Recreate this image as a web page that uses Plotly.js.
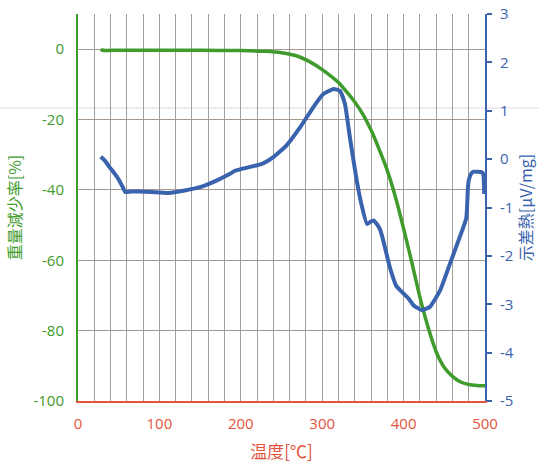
<!DOCTYPE html>
<html>
<head>
<meta charset="utf-8">
<script src="https://cdn.plot.ly/plotly-3.0.1.min.js"></script>
<style>html,body{margin:0;padding:0;background:#fff;}#chart{width:539px;height:466px;}</style>
</head>
<body>
<div id="chart"></div>
<script>
// Weight loss (TG) curve, left axis [%]
const tgTemp = [28, 30, 50, 100, 150, 200, 230, 250, 270, 285, 300, 320, 340, 350, 360, 370, 380, 390, 400, 410, 420, 430, 440, 450, 460, 470, 480, 490, 500];
const tgValue = [0, -0.3, -0.3, -0.3, -0.3, -0.4, -0.6, -1.0, -2.0, -3.6, -5.8, -9.5, -15, -18.5, -23, -28.5, -34.5, -42, -51, -60.5, -70.5, -79, -86, -90.5, -93, -94.6, -95.3, -95.6, -95.7];

// Differential heat (DTA) curve, right axis [μV/mg]
const dtaTemp = [28, 33, 39, 45, 50, 55, 58, 65, 75, 90, 111, 131, 152, 172, 185, 193, 209, 226, 240, 256, 273, 289, 301, 314, 322, 328, 334, 342, 348, 355, 359, 363, 367, 371, 375, 383, 391, 400, 406, 412, 422, 432, 445, 457, 469, 477, 479, 480, 483, 486, 496, 498, 499];
const dtaValue = [0.05, -0.03, -0.17, -0.30, -0.42, -0.58, -0.68, -0.67, -0.67, -0.68, -0.70, -0.65, -0.57, -0.43, -0.32, -0.24, -0.17, -0.10, 0.04, 0.28, 0.66, 1.07, 1.34, 1.45, 1.41, 1.14, 0.45, -0.40, -0.92, -1.34, -1.30, -1.27, -1.34, -1.45, -1.68, -2.23, -2.62, -2.78, -2.88, -3.02, -3.12, -3.06, -2.71, -2.16, -1.61, -1.22, -0.60, -0.44, -0.30, -0.26, -0.27, -0.32, -0.72];

// Tick labels
const xTicks = [0, 100, 200, 300, 400, 500];
const yTicks = [-100, -80, -60, -40, -20, 0];
const y2Ticks = [-5, -4, -3, -2, -1, 0, 1, 2, 3];

const xTitle = "温度[℃]";
const yTitle = "重量減少率[%]";
const y2Title = "示差熱[μV/mg]";

const green = "#3f9b2c";
const blue = "#3a63ae";
const red = "#e4533c";
const gridX = "#a2a09e";
const gridY = "#a89a8e";
const tickFont = "Open Sans, Noto Sans, sans-serif";
const cjkFont = "Noto Sans CJK JP, sans-serif";

const traces = [
  {
    x: tgTemp, y: tgValue, type: "scatter", mode: "lines",
    line: {color: green, width: 3.5, shape: "spline", smoothing: 0.5},
    yaxis: "y", hoverinfo: "skip"
  },
  {
    x: dtaTemp, y: dtaValue, type: "scatter", mode: "lines",
    line: {color: blue, width: 4, shape: "spline", smoothing: 0.4},
    yaxis: "y2", hoverinfo: "skip"
  }
];

const layout = {
  width: 539, height: 466,
  margin: {l: 78, r: 54, t: 14, b: 65},
  paper_bgcolor: "#fff", plot_bgcolor: "#fff",
  showlegend: false,
  shapes: [
    {type: "line", xref: "paper", yref: "paper", x0: -0.3, x1: 1.3, y0: 0.757, y1: 0.757,
     line: {color: "#ece4ee", width: 1.5}, layer: "below"}
  ],
  xaxis: {
    range: [0, 500],
    tickmode: "array", tickvals: xTicks, ticktext: xTicks.map(String),
    showgrid: true, gridcolor: gridX, gridwidth: 1,
    minor: {dtick: 20, tick0: 0, showgrid: true, gridcolor: gridX, gridwidth: 1},
    showline: true, linecolor: red, linewidth: 2,
    zeroline: false, ticks: "",
    ticklabelstandoff: 8,
    tickfont: {family: tickFont, size: 15, color: red},
    title: {text: xTitle, font: {family: cjkFont, size: 17, color: red}, standoff: 14}
  },
  yaxis: {
    range: [-100, 10],
    tickmode: "array", tickvals: yTicks, ticktext: yTicks.map(String),
    showgrid: true, gridcolor: gridY, gridwidth: 1,
    showline: true, linecolor: green, linewidth: 2,
    zeroline: false, ticks: "",
    ticklabelstandoff: 9,
    tickfont: {family: tickFont, size: 15, color: green},
    title: {text: yTitle, font: {family: cjkFont, size: 16, color: green}, standoff: 8}
  },
  yaxis2: {
    range: [-5, 3],
    tickmode: "array", tickvals: y2Ticks, ticktext: y2Ticks.map(String),
    overlaying: "y", side: "right",
    showgrid: false, zeroline: false,
    showline: true, linecolor: blue, linewidth: 2,
    ticks: "outside", ticklen: 5, tickcolor: blue, tickwidth: 2,
    ticklabelstandoff: 5,
    tickfont: {family: tickFont, size: 15, color: blue},
    title: {text: y2Title, font: {family: cjkFont, size: 16, color: blue}, standoff: 6}
  }
};

Plotly.newPlot("chart", traces, layout, {staticPlot: true, displayModeBar: false});
</script>
</body>
</html>
